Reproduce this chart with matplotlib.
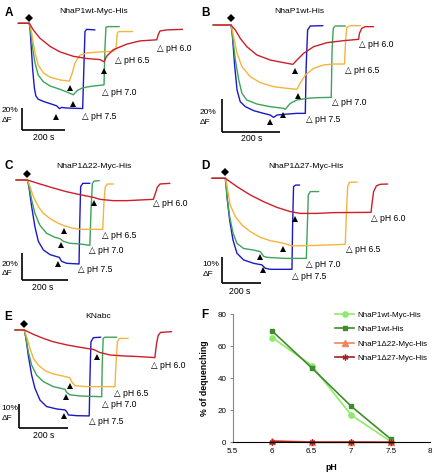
import matplotlib
matplotlib.use("Agg")
import matplotlib.pyplot as plt

plt.rcParams['font.family'] = ['Liberation Sans', 'DejaVu Sans']

W, H = 434, 474
fig = plt.figure(figsize=(W / 100, H / 100), dpi=100)

C_BLUE = '#1a1ac4'
C_GREEN = '#3da35a'
C_YELLOW = '#f5b53c'
C_RED = '#cc1e2b'

PH_LABELS = ['pH 7.5', 'pH 7.0', 'pH 6.5', 'pH 6.0']

# ---------------- Panel A: NhaP1wt-Myc-His (time s, dF %) ----------------
A_blue_t = [-52, 0, 4, 8, 16, 24, 31, 42, 66, 98, 129, 142, 153, 176, 252, 258, 263, 271, 310]
A_blue_v = [0, 0, -6, -18, -42, -59, -66, -69, -71, -73, -75, -77.5, -76.5, -77, -77.5, -39, -7.5, -5.5, -6]
A_green_t = [-52, 0, 5, 11, 19, 27, 42, 66, 98, 145, 184, 208, 227, 255, 302, 353, 357, 362, 373, 425]
A_green_v = [0, 0, -5, -15, -27, -36, -47, -53, -57, -60, -63, -65, -61, -58.5, -57, -56, -24, -3.5, -3, -3]
A_yellow_t = [-52, 0, 5, 11, 19, 27, 42, 66, 98, 145, 189, 200, 216, 239, 271, 334, 397, 409, 416, 422, 488]
A_yellow_v = [0, 0, -3, -9, -18, -27, -38, -45, -49, -51.5, -52.5, -47, -36, -29, -27, -26, -25.5, -23.5, -9, -7.5, -7.5]
A_red_t = [-52, 0, 19, 50, 98, 145, 208, 271, 334, 353, 365, 397, 460, 523, 602, 609, 617, 649, 724]
A_red_v = [0, 0, -6, -13.5, -21, -26, -30, -32, -33, -35, -30, -24, -19, -16, -15, -10.5, -7, -6, -5.5]
A_arrow_t = [126, 192, 205, 354]
A_arrow_v = [-85.5, -59, -73, -43]
A_label_t = [247, 345, 406, 602]
A_label_v = [-85, -63, -34, -23]

# ---------------- Panel B: NhaP1wt-His ----------------
B_blue_t = [-62, 0, 3, 6, 13, 21, 32, 50, 79, 113, 136, 148, 160, 183, 229, 258, 261, 266, 275, 319]
B_blue_v = [0, 0, -3, -9, -25, -39, -46, -49, -51.4, -53, -54, -55.4, -54, -53.6, -53, -53, -25, -3, -0.6, -0.4]
B_green_t = [-62, 0, 3, 7, 15, 27, 38, 55, 90, 136, 183, 188, 206, 229, 264, 298, 348, 351, 355, 362, 397]
B_green_v = [0, 0, -3, -9, -21, -33, -41, -45, -47.4, -49, -50, -50.6, -47, -45, -44, -43.6, -43.4, -15, -2, -0.6, -0.6]
B_yellow_t = [-62, 0, 4, 9, 21, 38, 67, 102, 148, 194, 229, 240, 258, 287, 321, 356, 394, 398, 402, 414, 449]
B_yellow_v = [0, 0, -2.5, -7, -17, -25, -31, -34.6, -37, -38, -38.6, -35, -30, -26, -24, -23.4, -23.4, -9, -1.4, -0.4, -0.4]
B_red_t = [-62, 0, 15, 32, 55, 90, 136, 183, 215, 229, 252, 287, 333, 391, 443, 446, 454, 466, 495]
B_red_v = [0, 0, -3, -8, -13, -18, -21, -22.6, -23.6, -21, -17, -13, -10.6, -9.4, -8.6, -5, -2, -1, -1]
B_arrow_t = [134, 180, 232, 221]
B_arrow_v = [-58, -54, -42.6, -27.6]
B_label_t = [261, 350, 396, 443]
B_label_v = [-56.6, -46.6, -27, -11.4]

# ---------------- Panel C: NhaP1Δ22-Myc-His ----------------
C_blue_t = [-49, 0, 4, 9, 19, 33, 48, 70, 99, 128, 139, 149, 171, 225, 228, 232, 241, 272]
C_blue_v = [0, 0, -2.5, -7.5, -20, -35, -46, -52.5, -56, -57.5, -58, -61, -62.5, -63, -32.5, -5, -2.5, -2.5]
C_green_t = [-49, 0, 4, 9, 19, 33, 55, 84, 120, 142, 157, 186, 229, 272, 277, 283, 291, 313]
C_green_v = [0, 0, -2, -6, -15, -25, -34, -40, -43, -44, -46, -47.5, -48, -49, -22.5, -2.5, -0.8, -0.5]
C_yellow_t = [-49, 0, 5, 12, 26, 48, 70, 99, 135, 164, 193, 229, 328, 333, 339, 348, 374]
C_yellow_v = [0, 0, -1.8, -5, -12.5, -20, -25, -29, -32.5, -34.5, -36, -37, -37, -17.5, -5, -3, -3]
C_red_t = [-49, 0, 55, 113, 171, 229, 287, 316, 374, 432, 490, 548, 557, 565, 577, 620]
C_red_v = [0, 0, -3, -6, -8.8, -11, -13, -14.5, -15.5, -15.5, -15, -14.5, -10, -5.5, -3, -2.5]
C_arrow_t = [135, 145, 161, 291]
C_arrow_v = [-63, -49, -38, -17.5]
C_label_t = [222, 270, 323, 548]
C_label_v = [-67, -53, -42, -18]

# ---------------- Panel D: NhaP1Δ27-Myc-His ----------------
D_blue_t = [-68, 0, 4, 8.5, 22, 39, 59, 93, 144, 186, 203, 229, 339, 342, 347, 358, 378]
D_blue_v = [0, 0, -2.5, -7, -16, -23.7, -28.8, -31.4, -32.7, -33.3, -34.6, -35, -35, -18.6, -3.2, -2.6, -2.6]
D_green_t = [-68, 0, 4, 8.5, 22, 39, 59, 93, 144, 178, 195, 212, 297, 412, 417, 422, 432, 475]
D_green_v = [0, 0, -2.5, -7, -14.7, -21, -25, -27, -27.6, -28.2, -30, -30.4, -30.8, -30.8, -18.6, -6.4, -5.1, -5.1]
D_yellow_t = [-68, 0, 5, 12, 25, 51, 85, 127, 178, 229, 297, 322, 339, 466, 610, 615, 622, 632, 669]
D_yellow_v = [0, 0, -1.5, -4.5, -10.3, -14.7, -18, -20.5, -22.7, -24, -25, -25.6, -26, -25.8, -25.4, -14.7, -3.2, -1.5, -1.5]
D_red_t = [-68, 0, 59, 127, 195, 263, 330, 381, 466, 551, 741, 746, 754, 768, 788, 825]
D_red_v = [0, 0, -3.2, -6.4, -9, -11.2, -12.8, -13.5, -13.5, -13.2, -13.1, -9.6, -5.1, -2.9, -2.3, -2.2]
D_arrow_t = [192, 178, 293, 353]
D_arrow_v = [-35.3, -30.4, -27, -15.8]
D_label_t = [339, 412, 615, 741]
D_label_v = [-37.6, -33, -27.3, -15.4]

# ---------------- Panel E: KNabc ----------------
E_blue_t = [-38, 0, 7, 16, 30, 43.5, 64, 91, 132, 166, 173, 180, 214, 265, 268, 272, 282, 312]
E_blue_v = [0, 0, -3.5, -10.4, -18.8, -24.3, -29.2, -31.9, -32.9, -33.3, -34, -35.4, -35.7, -35.8, -20, -4.9, -3.2, -3]
E_green_t = [-38, 0, 7, 16, 30, 50, 78, 118, 166, 173, 186, 227, 316, 318, 322, 329, 377]
E_green_v = [0, 0, -3.5, -9, -14.6, -18.8, -21.5, -23.6, -24.7, -26, -27, -27.5, -27.8, -14.6, -3.5, -3, -3]
E_yellow_t = [-38, 0, 9.5, 23, 37, 57, 84, 118, 159, 186, 193, 207, 254, 370, 374, 380, 388, 424]
E_yellow_v = [0, 0, -2.8, -7.6, -11.8, -14.6, -16.9, -18.3, -19.2, -19.9, -21.5, -23.2, -23.6, -23.6, -14.6, -4.9, -3.5, -3.5]
E_red_t = [-38, 0, 37, 78, 118, 173, 227, 282, 309, 350, 404, 472, 533, 539, 546, 556, 601]
E_red_v = [0, 0, -1.8, -3.5, -4.9, -6.2, -7.2, -8.1, -9.4, -10.4, -10.8, -11.1, -11.5, -6.2, -2.4, -1, -0.7]
E_arrow_t = [163, 170, 186, 298]
E_arrow_v = [-35.8, -28, -23.2, -11.1]
E_label_t = [265, 316, 367, 516]
E_label_v = [-38.2, -31, -26.4, -14.6]

# ---------------- Panel F: % of dequenching ----------------
F_ph = [6, 6.5, 7, 7.5]
F_wt_myc = [65.5, 48, 17, 0.5]
F_wt_his = [69.5, 46.5, 22.5, 2]
F_d22 = [1, 0.2, 0.3, 0]
F_d27 = [0.5, 0, 0, 0]


def fpx(x, y):
    return x / W, 1 - y / H


def panel(ox, oy, pxs, pxp, traces, arrows, labels, bar, diamond_v):
    ax = fig.add_axes([0, 0, 1, 1], facecolor='none')
    ax.set_xlim((0 - ox) / pxs, (W - ox) / pxs)
    ax.set_ylim((oy - H) / pxp, oy / pxp)
    ax.axis('off')
    for (t, v), c in zip(traces, [C_BLUE, C_GREEN, C_YELLOW, C_RED]):
        ax.plot(t, v, color=c, lw=1.0, solid_joinstyle='round', solid_capstyle='round')
    ax.plot(arrows[0], arrows[1], '^', color='k', ms=4.6, mew=0)
    ax.plot([0], [diamond_v], 'D', color='k', ms=3.6, mew=0)
    for lt, lv, s in zip(labels[0], labels[1], PH_LABELS):
        ax.text(lt, lv, '\u25b3 ' + s, ha='left', va='center', fontsize=6.2)
    t0, v0, vlen = bar
    ax.plot([t0, t0 + 200], [v0, v0], color='k', lw=1.2, solid_capstyle='butt')
    ax.plot([t0, t0], [v0, v0 + vlen], color='k', lw=1.2, solid_capstyle='butt')
    return ax


panel(29.3, 23.3, 0.2117, 1.1,
      [(A_blue_t, A_blue_v), (A_green_t, A_green_v), (A_yellow_t, A_yellow_v), (A_red_t, A_red_v)],
      (A_arrow_t, A_arrow_v), (A_label_t, A_label_v), (-33, -97, 20), 4.5)
panel(231, 25, 0.288, 1.667,
      [(B_blue_t, B_blue_v), (B_green_t, B_green_v), (B_yellow_t, B_yellow_v), (B_red_t, B_red_v)],
      (B_arrow_t, B_arrow_v), (B_label_t, B_label_v), (-30, -64.4, 20), 4)
panel(27.3, 180, 0.23, 1.333,
      [(C_blue_t, C_blue_v), (C_green_t, C_green_v), (C_yellow_t, C_yellow_v), (C_red_t, C_red_v)],
      (C_arrow_t, C_arrow_v), (C_label_t, C_label_v), (-24, -75, 20), 4.5)
panel(225.3, 178.3, 0.1967, 2.6,
      [(D_blue_t, D_blue_v), (D_green_t, D_green_v), (D_yellow_t, D_yellow_v), (D_red_t, D_red_v)],
      (D_arrow_t, D_arrow_v), (D_label_t, D_label_v), (-17, -40.4, 10), 2.6)
panel(24.3, 330, 0.245, 2.4,
      [(E_blue_t, E_blue_v), (E_green_t, E_green_v), (E_yellow_t, E_yellow_v), (E_red_t, E_red_v)],
      (E_arrow_t, E_arrow_v), (E_label_t, E_label_v), (-20.4, -41, 10), 2.4)

# titles, letters, scale-bar labels
titles = [('NhaP1wt-Myc-His', 93.3, 11.7), ('NhaP1wt-His', 299.7, 11.7),
          ('NhaP1\u039422-Myc-His', 94.3, 166.7), ('NhaP1\u039427-Myc-His', 306.3, 166.7),
          ('KNabc', 97.7, 316)]
for s, x, y in titles:
    fig.text(*fpx(x, y), s, ha='center', va='center', fontsize=6.1)
letters = [('A', 9, 13.3), ('B', 206, 13.3), ('C', 8.3, 165.7), ('D', 205, 165.7),
           ('E', 8.3, 316.7), ('F', 205, 315)]
for s, x, y in letters:
    fig.text(*fpx(x, y), s, ha='center', va='center', fontsize=8.5, fontweight='bold')
bars = [('20%', 1.7, 111, 120.5, 43.3, 138), ('20%', 200, 112.3, 122.2, 251.3, 138.3),
        ('20%', 1.7, 264.2, 273.5, 42.7, 287.7), ('10%', 202.7, 264.2, 274, 239.3, 291.7),
        ('10%', 1.7, 409, 418.3, 43.3, 435)]
for s, x, y1, y2, xs, ys in bars:
    fig.text(*fpx(x, y1), s, ha='left', va='center', fontsize=6.0)
    fig.text(*fpx(x, y2), '\u0394F', ha='left', va='center', fontsize=6.0)
    fig.text(*fpx(xs, ys), '200 s', ha='center', va='center', fontsize=6.3)

# ---------------- Panel F ----------------
axF = fig.add_axes([232.7 / W, 1 - 442.3 / H, (430.3 - 232.7) / W, (442.3 - 314.3) / H])
axF.plot(F_ph, F_wt_myc, '-o', color='#8fea6c', lw=1.2, ms=3.8, clip_on=False, label='NhaP1wt-Myc-His')
axF.plot(F_ph, F_wt_his, '-s', color='#3e8c2c', lw=1.2, ms=3.5, clip_on=False, label='NhaP1wt-His')
axF.plot(F_ph, F_d22, '-^', color='#f0845e', lw=1.2, ms=3.8, clip_on=False, label='NhaP1\u039422-Myc-His')
axF.plot(F_ph, F_d27, '-', color='#a51f1f', marker=(6, 2, 0), lw=1.2, ms=4.2, mew=1.0,
         clip_on=False, label='NhaP1\u039427-Myc-His')
axF.set_xlim(5.5, 8)
axF.set_ylim(0, 80)
axF.set_xticks([5.5, 6, 6.5, 7, 7.5, 8])
axF.set_xticklabels(['5.5', '6', '6.5', '7', '7.5', '8'])
axF.set_yticks([0, 20, 40, 60, 80])
axF.spines['top'].set_visible(False)
axF.spines['right'].set_visible(False)
axF.spines['left'].set_color('#888888')
axF.spines['bottom'].set_color('black')
axF.tick_params(axis='y', length=2.5, width=0.8, color='#888888', labelsize=5.8, pad=2)
axF.tick_params(axis='x', length=0, labelsize=5.8, pad=4)
axF.set_xlabel('pH', fontsize=6.3, fontweight='bold', labelpad=6)
axF.set_ylabel('% of dequenching', fontsize=6.3, fontweight='bold', labelpad=6)
axF.legend(loc='upper left', bbox_to_anchor=fpx(331, 307), bbox_transform=fig.transFigure,
           frameon=False, fontsize=5.8, handlelength=2.4, handletextpad=0.4, labelspacing=0.85,
           borderpad=0)

fig.savefig('out.png', dpi=100)
